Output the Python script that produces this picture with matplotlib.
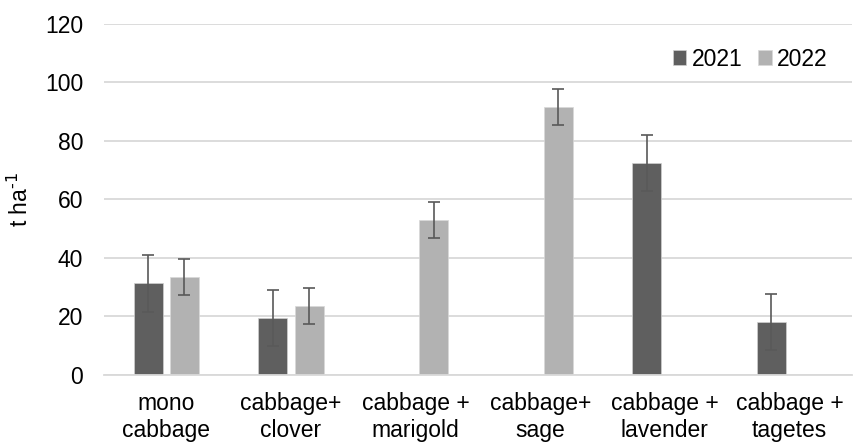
import numpy as np
import matplotlib
matplotlib.use("Agg")
import matplotlib.pyplot as plt

plt.rcParams['font.family'] = ['Liberation Sans', 'DejaVu Sans']
plt.rcParams['mathtext.default'] = 'regular'

categories = ["mono\ncabbage", "cabbage+\nclover", "cabbage +\nmarigold",
              "cabbage+\nsage", "cabbage +\nlavender", "cabbage +\ntagetes"]
y2021 = [31.3, 19.6, np.nan, np.nan, 72.6, 18.0]
err2021 = [9.6, 9.6, np.nan, np.nan, 9.6, 9.6]
y2022 = [33.4, 23.6, 52.9, 91.5, np.nan, np.nan]
err2022 = [6.2, 6.2, 6.2, 6.2, np.nan, np.nan]
series_names = ["2021", "2022"]
yticks = [0, 20, 40, 60, 80, 100, 120]

FS = 16.5
fig = plt.figure(figsize=(8.57, 4.42), dpi=100)
ax = fig.add_axes([0.1214, 0.1516, 0.8726, 0.7941])

x = np.arange(len(categories))
w = 0.232
off = 0.145
c1, c2 = '#5f5f5f', '#b2b2b2'
ax.bar(x - off, y2021, w, color=c1, edgecolor='#d0d0d0', linewidth=0.5, label=series_names[0], zorder=2)
ax.bar(x + off, y2022, w, color=c2, edgecolor='#d8d8d8', linewidth=0.5, label=series_names[1], zorder=2)
ax.errorbar(x - off, y2021, yerr=err2021, fmt='none', ecolor='#595959', elinewidth=1.2, capsize=4.3, capthick=1.2, zorder=3)
ax.errorbar(x + off, y2022, yerr=err2022, fmt='none', ecolor='#595959', elinewidth=1.2, capsize=4.3, capthick=1.2, zorder=3)

ax.set_xlim(-0.5, len(categories) - 0.5)
ax.set_ylim(0, 120)
ax.set_yticks(yticks)
ax.set_xticks(x)
ax.set_xticklabels(categories, fontsize=FS, linespacing=1.23)
ax.tick_params(axis='y', labelsize=FS, length=0, pad=15)
ax.tick_params(axis='x', length=0, pad=12)
ax.yaxis.grid(True, color='#d9d9d9', linewidth=1.3, zorder=0)
ax.set_axisbelow(True)
for s in ['top', 'right', 'left']:
    ax.spines[s].set_visible(False)
ax.spines['bottom'].set_color('#d9d9d9')
ax.spines['bottom'].set_linewidth(1.3)

ax.set_ylabel(r't ha$^{\text{-1}}$', fontsize=FS, labelpad=9)

ax.legend(loc='center right', bbox_to_anchor=(0.968, 0.9), ncol=2, frameon=False,
          fontsize=FS, handlelength=0.6, handleheight=0.6, handletextpad=0.25,
          columnspacing=0.65, borderpad=0.0, borderaxespad=0.0)

fig.savefig('out.png', dpi=100)
